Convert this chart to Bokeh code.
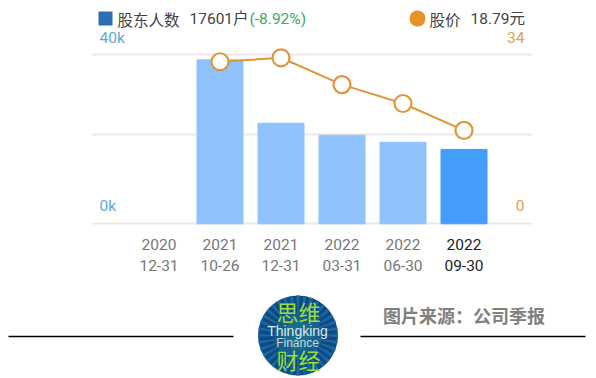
import math
from bokeh.embed import file_html
from bokeh.resources import INLINE
from bokeh.plotting import figure
from bokeh.models import Range1d, FixedTicker, Label, LabelSet, ColumnDataSource
from bokeh.core.properties import value

years = ["2020", "2021", "2021", "2022", "2022", "2022"]
dates = ["12-31", "10-26", "12-31", "03-31", "06-30", "09-30"]
holders = [float("nan"), 38800, 23800, 20950, 19300, 17601]
prices = [float("nan"), 32.6, 33.4, 28.0, 24.2, 18.79]
bar_colors = ["#90C2FE", "#90C2FE", "#90C2FE", "#90C2FE", "#90C2FE", "#459DFB"]
label_colors = ["#777777"] * 5 + ["#222222"]
grid_values = [0, 21200, 40000]
HOLDER_MAX = 40000
PRICE_MAX = 34

CJK = "Noto Sans CJK SC"
LATIN = "Roboto, 'Noto Sans CJK SC'"
W, H = 596, 378
PX_L, PX_T = 0, 0
PX_R, PX_B = PX_L + W, PX_T + H
X0, STEP = 158.5, 61         # page px of first category, px per category
Y_ZERO, Y_TOP = 223.3, 54.3  # page px of axis 0 and axis max

xs = list(range(6))
src = ColumnDataSource(dict(x=xs, h=holders, p=prices, c=bar_colors, lc=label_colors, yr=years, dt=dates))

per_px = HOLDER_MAX / (Y_ZERO - Y_TOP)
price_per_px = PRICE_MAX / (Y_ZERO - Y_TOP)

p = figure(width=W, height=H, output_backend="svg", toolbar_location=None,
           x_range=Range1d((PX_L - X0) / STEP, (PX_R - X0) / STEP),
           y_range=Range1d((Y_ZERO - PX_B) * per_px, (Y_ZERO - PX_T) * per_px),
           min_border=0, min_border_left=0, min_border_right=0, min_border_top=0, min_border_bottom=0)
p.extra_y_ranges = {"price": Range1d((Y_ZERO - PX_B) * price_per_px, (Y_ZERO - PX_T) * price_per_px),
                    "py": Range1d(PX_B, PX_T)}
p.extra_x_ranges = {"px": Range1d(PX_L, PX_R)}
p.outline_line_color = None
p.xaxis.visible = False
p.yaxis.visible = False
p.xgrid.visible = False
p.ygrid.ticker = FixedTicker(ticks=grid_values)
p.ygrid.grid_line_color = "#E9E9E9"
p.ygrid.grid_line_width = 2
p.ygrid.cross_bounds = ((92 - X0) / STEP, (531 - X0) / STEP)

p.vbar(x="x", top="h", bottom=0, width=46 / STEP, color="c", source=src)
p.line(x="x", y="p", y_range_name="price", line_color="#E0963A", line_width=2, source=src)
p.scatter(x="x", y="p", y_range_name="price", size=17, fill_color="white", line_color="#E0963A",
          line_width=2.2, source=src)

def lab(x, y, text, color, size=15.5, align="left", style="normal", font=LATIN):
    p.add_layout(Label(x=x, y=y, x_range_name="px", y_range_name="py", text=text, text_color=color,
                       text_font=font, text_font_size=f"{size}px", text_align=align,
                       text_baseline="middle", text_font_style=style))

# legend
p.scatter([105], [18], x_range_name="px", y_range_name="py", marker="square", size=14,
          fill_color="#2F6DB5", line_color=None)
p.scatter([417], [18], x_range_name="px", y_range_name="py", size=16,
          fill_color="#E8922A", line_color=None)
lab(117, 18, "股东人数", "#444444", font=CJK)
lab(189, 18, "17601户", "#444444")
lab(249, 18, "(-8.92%)", "#3DA863")
lab(429, 18, "股价", "#444444", font=CJK)
lab(470, 18, "18.79元", "#444444")
lab(99, 37, "40k", "#62A6D8")
lab(99, 205, "0k", "#62A6D8")
lab(524, 37, "34", "#DDA155", align="right")
lab(524, 205, "0", "#DDA155", align="right")

for col, py in (("yr", 244), ("dt", 265)):
    p.add_layout(LabelSet(x="x", y=py, y_range_name="py", text=col, text_color="lc", source=src,
                          text_font=value("Roboto"), text_font_size="15.5px", text_align="center",
                          text_baseline="middle"))

# footer
p.segment([8, 360], [336, 336], [233, 585], [336, 336], x_range_name="px", y_range_name="py",
          line_color="#000000", line_width=1.5)

cx, cy, r = 297.5, 335, 40
p.circle([cx], [cy], radius=r, x_range_name="px", y_range_name="py", fill_color="#0E4A86", line_color=None)
n = 36
for i in range(n):
    a = 2 * math.pi * i / n
    d = math.pi / n * 0.45
    p.patch([cx + 14 * math.cos(a), cx + r * math.cos(a - d), cx + r * math.cos(a + d)],
            [cy + 14 * math.sin(a), cy + r * math.sin(a - d), cy + r * math.sin(a + d)],
            x_range_name="px", y_range_name="py", fill_color="#1B6A9E", line_color=None)
p.circle([cx], [cy], radius=24, x_range_name="px", y_range_name="py", fill_color="#1F8090", fill_alpha=0.35,
         line_color=None)
p.circle([cx], [cy], radius=15, x_range_name="px", y_range_name="py", fill_color="#1F8090", fill_alpha=0.5,
         line_color=None)

lab(298, 310, "思维", "#9ADE3C", 22, align="center", font=CJK)
lab(297, 330, "Thingking", "#DDE8F0", 14, align="center", font="Liberation Sans")
lab(297, 342, "Finance", "#C8D5E0", 12, align="center", font="Liberation Sans")
lab(298, 358, "财经", "#9ADE3C", 22, align="center", font=CJK)
lab(463.5, 314, "图片来源：公司季报", "#808080", 18, align="center", style="bold", font=CJK)

open("out.html", "w").write(file_html(p, INLINE))
